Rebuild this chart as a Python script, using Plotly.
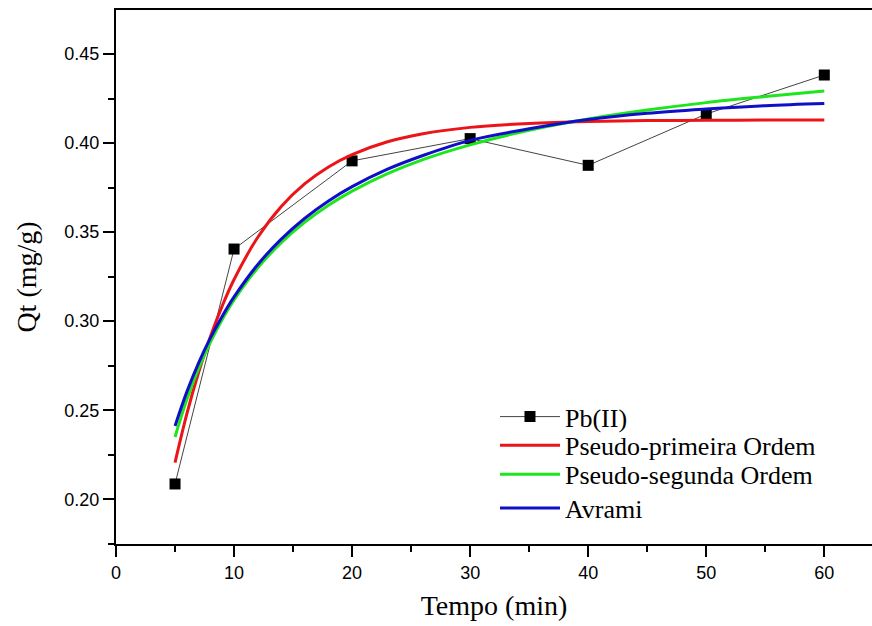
import plotly.graph_objects as go

# Experimental data
t_data = [5, 10, 20, 30, 40, 50, 60]
q_data = [0.2086, 0.3405, 0.3900, 0.4025, 0.3875, 0.4163, 0.4382]

# Fitted model curves
t_fit = [5, 6, 7, 8, 9, 10, 12, 14, 16, 18, 20, 23, 26, 30, 35, 40, 45, 50, 55, 60]
q_pfo = [0.2206, 0.2479, 0.2713, 0.2914, 0.3086, 0.3234, 0.3470, 0.3644, 0.3772, 0.3866,
         0.3935, 0.4007, 0.4052, 0.4088, 0.4110, 0.4121, 0.4126, 0.4128, 0.4129, 0.4130]
q_pso = [0.2350, 0.2560, 0.2735, 0.2883, 0.3010, 0.3119, 0.3299, 0.3441, 0.3556, 0.3651,
         0.3730, 0.3828, 0.3907, 0.3990, 0.4072, 0.4135, 0.4185, 0.4227, 0.4261, 0.4292]
q_avr = [0.2412, 0.2603, 0.2766, 0.2906, 0.3028, 0.3136, 0.3317, 0.3461, 0.3578, 0.3675,
         0.3755, 0.3853, 0.3930, 0.4015, 0.4080, 0.4132, 0.4167, 0.4191, 0.4210, 0.4222]

names = ["Pb(II)", "Pseudo-primeira Ordem", "Pseudo-segunda Ordem", "Avrami"]
x_ticks = [0, 10, 20, 30, 40, 50, 60]
y_ticks = [0.20, 0.25, 0.30, 0.35, 0.40, 0.45]

fig = go.Figure()
fig.add_trace(go.Scatter(x=t_data, y=q_data, mode="lines+markers", name=names[0], legend="legend",
                         line=dict(color="#444444", width=1),
                         marker=dict(symbol="square", size=11, color="black")))
fig.add_trace(go.Scatter(x=t_fit, y=q_pfo, mode="lines", name=names[1], legend="legend2",
                         line=dict(color="rgb(235,20,25)", width=3, shape="spline")))
fig.add_trace(go.Scatter(x=t_fit, y=q_pso, mode="lines", name=names[2], legend="legend3",
                         line=dict(color="rgb(30,230,30)", width=3, shape="spline")))
fig.add_trace(go.Scatter(x=t_fit, y=q_avr, mode="lines", name=names[3], legend="legend4",
                         line=dict(color="rgb(15,15,200)", width=3, shape="spline")))

tickfont = dict(family="Arial, Liberation Sans, sans-serif", size=18, color="black")
titlefont = dict(family="Times New Roman, Liberation Serif, serif", size=28, color="black")
legfont = dict(family="Times New Roman, Liberation Serif, serif", size=26, color="black")


def leg(yc):
    return dict(x=0.5013, y=yc, xanchor="left", yanchor="middle", itemwidth=60,
                bgcolor="rgba(0,0,0,0)", borderwidth=0, font=legfont)


fig.update_layout(
    width=872, height=626,
    margin=dict(l=116, r=0, t=10, b=82),
    paper_bgcolor="white", plot_bgcolor="white",
    showlegend=True,
    legend=leg(0.2384),
    legend2=leg(0.1847),
    legend3=leg(0.1303),
    legend4=leg(0.0674),
    xaxis=dict(range=[0, 64.04], tickvals=x_ticks, showgrid=False, zeroline=False,
               showline=True, linewidth=2, linecolor="black", mirror=True,
               ticks="outside", ticklen=11, tickwidth=2, tickcolor="black",
               tickfont=tickfont,
               minor=dict(ticks="outside", ticklen=6, tickwidth=2, tickcolor="black", dtick=5, showgrid=False),
               title=dict(text="Tempo (min)", font=titlefont, standoff=14)),
    yaxis=dict(range=[0.1749, 0.4747], tickvals=y_ticks, tickformat=".2f", showgrid=False, zeroline=False,
               showline=True, linewidth=2, linecolor="black", mirror=False,
               ticks="outside", ticklen=11, tickwidth=2, tickcolor="black",
               tickfont=tickfont,
               minor=dict(ticks="outside", ticklen=6, tickwidth=2, tickcolor="black", dtick=0.025,
                          tick0=0.2, showgrid=False),
               title=dict(text="Qt (mg/g)", font=titlefont, standoff=20)),
)

fig.write_html("out.html")
